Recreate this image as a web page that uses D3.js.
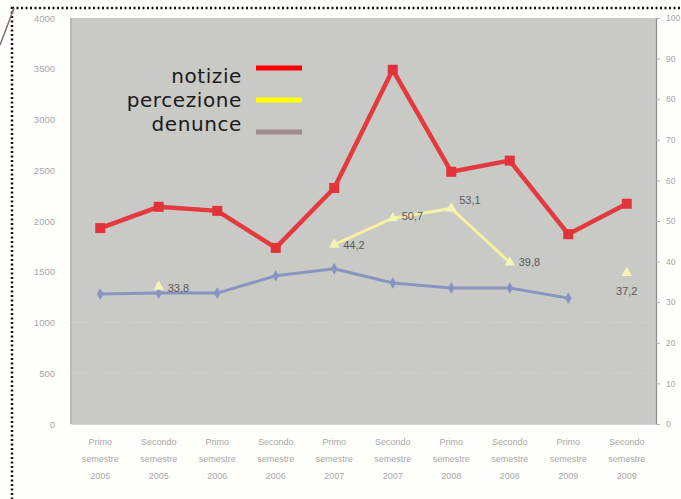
<!DOCTYPE html>
<html lang="it">
<head>
<meta charset="utf-8"/>
<title>Notizie, percezione, denunce</title>
<script src="https://d3js.org/d3.v7.min.js"></script>
<style>
  body { margin: 0; background: #fefefb; }
  svg { display: block; }
</style>
</head>
<body>
<script>
// dati
var periodi = ["Primo|semestre|2005", "Secondo|semestre|2005", "Primo|semestre|2006", "Secondo|semestre|2006",
               "Primo|semestre|2007", "Secondo|semestre|2007", "Primo|semestre|2008", "Secondo|semestre|2008",
               "Primo|semestre|2009", "Secondo|semestre|2009"];
var notizie = [1930, 2140, 2100, 1735, 2325, 3490, 2485, 2595, 1870, 2170];
var denunce = [1280, 1290, 1290, 1460, 1530, 1390, 1340, 1340, 1240, null];
var percezione = [null, 33.8, null, null, 44.2, 50.7, 53.1, 39.8, null, 37.2];
var tickSinistra = [0, 500, 1000, 1500, 2000, 2500, 3000, 3500, 4000];
var tickDestra = [0, 10, 20, 30, 40, 50, 60, 70, 80, 90, 100];
var legenda = [["notizie", "#ff0000"], ["percezione", "#ffff00"], ["denunce", "#a38d93"]];

var w = 681, h = 499;
var pLeft = 71, pRight = 656, pTop = 18, pBottom = 424;

var svg = d3.select("body").append("svg").attr("width", w).attr("height", h);

// cornice tratteggiata
svg.append("rect").attr("x", 12).attr("y", 8).attr("width", w + 20).attr("height", h + 20)
    .attr("fill", "#fefefb").attr("stroke", "#111").attr("stroke-width", 2.5)
    .attr("stroke-dasharray", "2,2.5");
svg.append("line").attr("x1", 0).attr("y1", 45).attr("x2", 14).attr("y2", 8)
    .attr("stroke", "#8a6a6a").attr("stroke-width", 1.5);

var x = d3.scaleBand().domain(d3.range(periodi.length)).range([pLeft, pRight]);
var y = d3.scaleLinear().domain([0, 4000]).range([pBottom, pTop]);
var y2 = d3.scaleLinear().domain([0, 100]).range([pBottom, pTop]);
var cx = function(i) { return x(i) + x.bandwidth() / 2; };

// area del grafico
svg.append("rect").attr("x", pLeft).attr("y", pTop).attr("width", pRight - pLeft).attr("height", pBottom - pTop)
    .attr("fill", "#c9c9c5");
svg.append("line").attr("x1", pLeft).attr("x2", pLeft).attr("y1", pTop).attr("y2", pBottom)
    .attr("stroke", "#b8b8b4").attr("stroke-width", 2);

// griglia leggera
svg.append("g").selectAll("line").data([500, 1000]).enter().append("line")
    .attr("x1", pLeft).attr("x2", pRight - 10).attr("y1", function(d) { return y(d); }).attr("y2", function(d) { return y(d); })
    .attr("stroke", "#d0d0cc").attr("stroke-dasharray", "20,10");

// asse sinistro
var axL = svg.append("g").attr("transform", "translate(" + pLeft + ",0)")
    .call(d3.axisLeft(y).tickValues(tickSinistra).tickFormat(d3.format("d")).tickSize(0).tickPadding(16));
axL.select(".domain").remove();
axL.selectAll("text").attr("fill", "#a8a8a8").style("font-family", "Liberation Sans, Arial, sans-serif").style("font-size", "9.5px");

// asse destro
var axR = svg.append("g").attr("transform", "translate(" + pRight + ",0)")
    .call(d3.axisRight(y2).tickValues(tickDestra).tickSize(4).tickPadding(6));
axR.select(".domain").attr("stroke", "#8c8c8c").attr("stroke-width", 1.2);
axR.selectAll("line").attr("stroke", "#b0b0b0");
axR.selectAll("text").attr("fill", "#a8a8a8").style("font-family", "Liberation Sans, Arial, sans-serif").style("font-size", "8.5px");

// asse x
var axX = svg.append("g").attr("transform", "translate(0," + pBottom + ")")
    .call(d3.axisBottom(x).tickSize(0).tickFormat(""));
axX.select(".domain").attr("stroke", "#d6d6d2");
axX.selectAll(".tick").each(function(d) {
  var t = d3.select(this).append("text").attr("fill", "#a8a8a8").attr("text-anchor", "middle")
      .style("font-family", "Liberation Sans, Arial, sans-serif").style("font-size", "9px");
  periodi[d].split("|").forEach(function(s, k) {
    t.append("tspan").attr("x", 0).attr("y", 21 + k * 17).text(s);
  });
});

// denunce
var lineaD = d3.line().defined(function(d) { return d != null; })
    .x(function(d, i) { return cx(i); }).y(function(d) { return y(d); });
svg.append("path").datum(denunce).attr("d", lineaD).attr("fill", "none")
    .attr("stroke", "#8896bf").attr("stroke-width", 3);
svg.append("g").selectAll("path").data(denunce.map(function(v, i) { return [v, i]; }).filter(function(d) { return d[0] != null; }))
    .enter().append("path")
    .attr("d", d3.symbol(d3.symbolDiamond, 40))
    .attr("transform", function(d) { return "translate(" + cx(d[1]) + "," + y(d[0]) + ")"; })
    .attr("fill", "#8896bf");

// percezione
var lineaP = d3.line().defined(function(d) { return d != null; })
    .x(function(d, i) { return cx(i); }).y(function(d) { return y2(d); });
svg.append("path").datum(percezione).attr("d", lineaP).attr("fill", "none")
    .attr("stroke", "#f2f1a6").attr("stroke-width", 3);
var puntiP = percezione.map(function(v, i) { return [v, i]; }).filter(function(d) { return d[0] != null; });
svg.append("g").selectAll("path").data(puntiP).enter().append("path")
    .attr("d", d3.symbol(d3.symbolTriangle, 50))
    .attr("transform", function(d) { return "translate(" + cx(d[1]) + "," + y2(d[0]) + ")"; })
    .attr("fill", "#f4f3b8");
var offset = { 1: [9, 5, "start"], 4: [9, 4, "start"], 5: [9, 2, "start"], 6: [8, -4, "start"], 7: [9, 4, "start"], 9: [0, 22, "middle"] };
svg.append("g").selectAll("text").data(puntiP).enter().append("text")
    .attr("x", function(d) { return cx(d[1]) + offset[d[1]][0]; })
    .attr("y", function(d) { return y2(d[0]) + offset[d[1]][1]; })
    .attr("text-anchor", function(d) { return offset[d[1]][2]; })
    .attr("fill", "#5a5a5a").style("font-family", "Liberation Sans, Arial, sans-serif").style("font-size", "11px")
    .text(function(d) { return d[0].toFixed(1).replace(".", ","); });

// notizie
var lineaN = d3.line().x(function(d, i) { return cx(i); }).y(function(d) { return y(d); });
svg.append("path").datum(notizie).attr("d", lineaN).attr("fill", "none")
    .attr("stroke", "#e23a3f").attr("stroke-width", 4.5);
svg.append("g").selectAll("rect").data(notizie).enter().append("rect")
    .attr("x", function(d, i) { return cx(i) - 5; }).attr("y", function(d) { return y(d) - 5; })
    .attr("width", 10).attr("height", 10).attr("fill", "#e2333b");

// legenda
var leg = svg.append("g").selectAll("g").data(legenda).enter().append("g")
    .attr("transform", function(d, i) { return "translate(0," + (i * 24) + ")"; });
leg.append("text").attr("x", 242).attr("y", 83).attr("text-anchor", "end")
    .attr("fill", "#1a1a1a").style("font-family", "DejaVu Sans, sans-serif").style("font-size", "20px")
    .style("letter-spacing", "0.6px")
    .text(function(d) { return d[0]; });
leg.append("line").attr("x1", 256).attr("x2", 302)
    .attr("y1", function(d, i) { return [68, 76, 84][i]; }).attr("y2", function(d, i) { return [68, 76, 84][i]; })
    .attr("stroke", function(d) { return d[1]; }).attr("stroke-width", 5);
</script>
</body>
</html>
